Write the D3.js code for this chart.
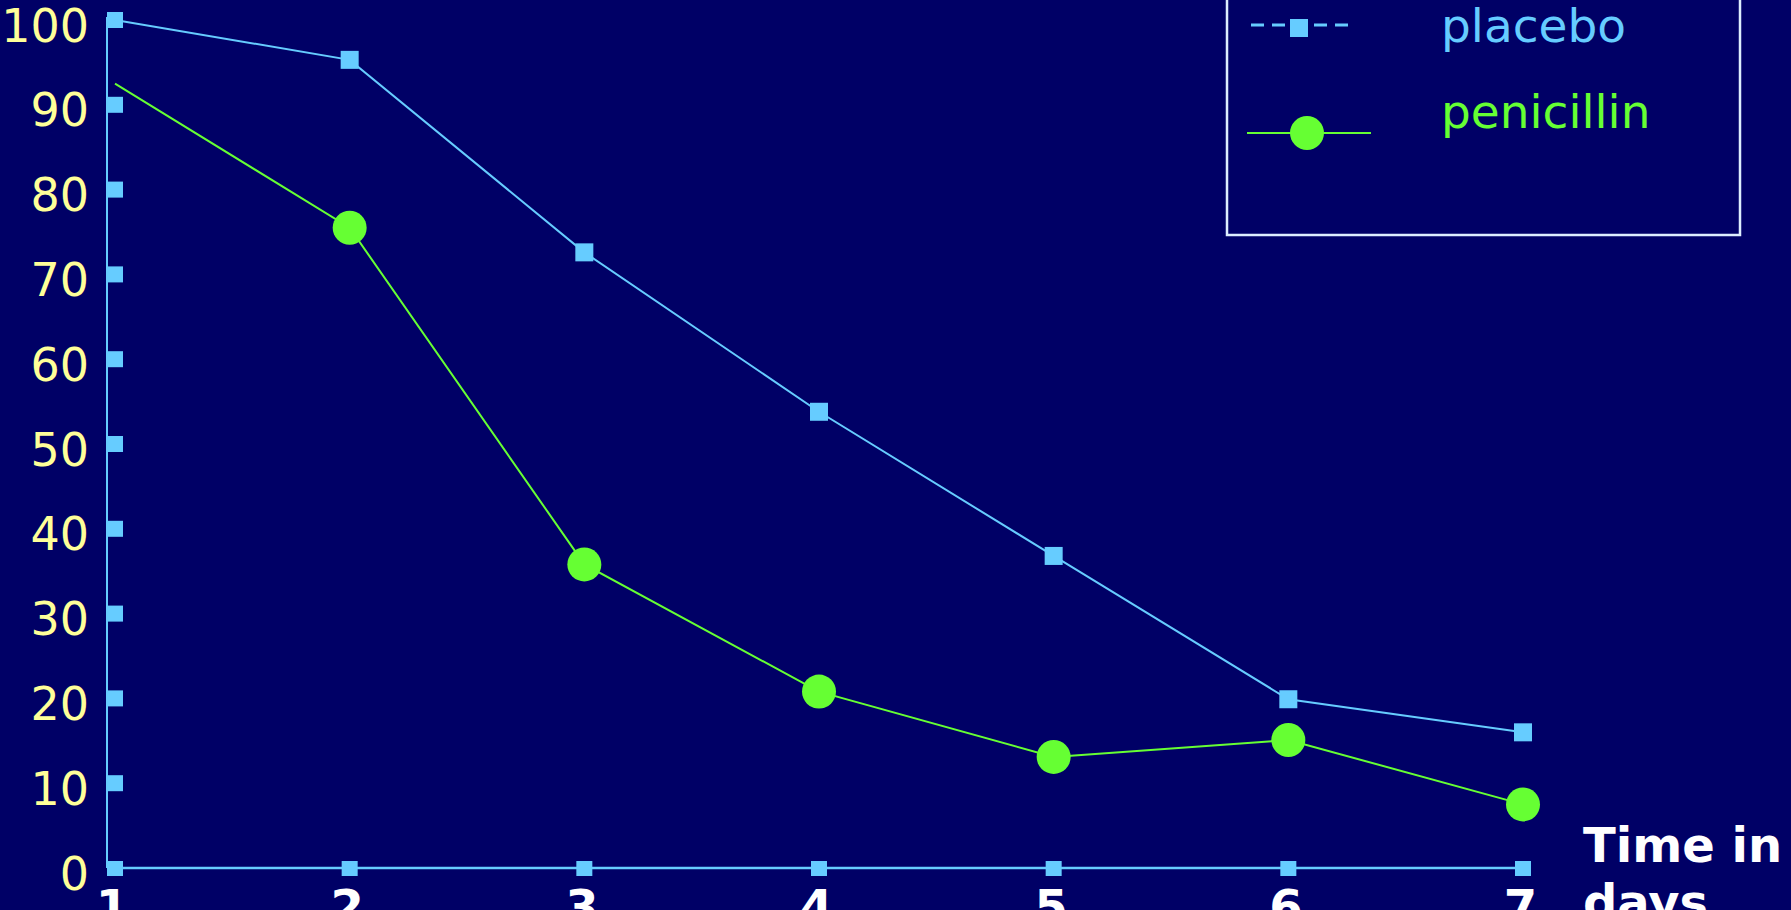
<!DOCTYPE html>
<html>
<head>
<meta charset="utf-8">
<script src="https://cdn.jsdelivr.net/npm/d3@7"></script>
<style>
  html, body { margin: 0; padding: 0; background: #000066; overflow: hidden; }
  svg { display: block; }
  text { font-family: "DejaVu Sans", Verdana, sans-serif; }
</style>
</head>
<body>
<div id="chart"></div>
<script>
// data
const days = [1, 2, 3, 4, 5, 6, 7];
const placebo = [100, 95.3, 72.6, 53.8, 36.8, 19.9, 16.0];
const penicillin = [92.5, 75.5, 35.8, 20.8, 13.1, 15.1, 7.5];
const yTicks = [0, 10, 20, 30, 40, 50, 60, 70, 80, 90, 100];
const seriesNames = ['placebo', 'penicillin'];
const axisTitle = ['Time in', 'days'];

const width = 1791, height = 910;
const colors = { placebo: '#66CCFF', penicillin: '#66FF33', label: '#FFFF99', bg: '#000066' };

const svg = d3.select('#chart').append('svg')
  .attr('width', width)
  .attr('height', height);

svg.append('rect').attr('width', width).attr('height', height).attr('fill', colors.bg);

const x = d3.scaleLinear().domain([1, 7]).range([115, 1523]);
const y = d3.scaleLinear().domain([0, 100]).range([868, 20]);
const axisX = x(1) - 8;

// y axis: labels from axisLeft, square ticks drawn on top
const gy = svg.append('g').attr('transform', `translate(${axisX},0)`)
  .call(d3.axisLeft(y).tickValues(yTicks).tickSize(0).tickPadding(18).tickFormat(d3.format('d')));
gy.select('.domain').remove();
gy.selectAll('text')
  .attr('fill', colors.label)
  .style('font-size', '46px')
  .attr('dy', '0.46em');

svg.append('line')
  .attr('x1', axisX).attr('x2', axisX)
  .attr('y1', y(100) - 3).attr('y2', y(0))
  .attr('stroke', colors.placebo).attr('stroke-width', 2);

svg.append('line')
  .attr('x1', axisX).attr('x2', x(7))
  .attr('y1', y(0)).attr('y2', y(0))
  .attr('stroke', colors.placebo).attr('stroke-width', 2.5);

svg.append('g').selectAll('rect')
  .data(yTicks.filter(d => d > 0))
  .join('rect')
  .attr('x', axisX)
  .attr('y', d => y(d) - 8)
  .attr('width', 16).attr('height', 16)
  .attr('fill', colors.placebo);

// x axis
const gx = svg.append('g').attr('transform', `translate(0,${y(0)})`)
  .call(d3.axisBottom(x).tickValues(days).tickSize(0).tickPadding(22).tickFormat(d3.format('d')));
gx.select('.domain').remove();
gx.selectAll('text')
  .attr('fill', '#FFFFFF')
  .attr('dx', -3)
  .style('font-size', '48px')
  .style('font-weight', 'bold');

svg.append('g').selectAll('rect')
  .data(days)
  .join('rect')
  .attr('x', d => x(d) - 8)
  .attr('y', y(0) - 7)
  .attr('width', 16).attr('height', 15)
  .attr('fill', colors.placebo);

svg.append('text')
  .attr('x', 1583).attr('y', 862)
  .attr('fill', '#FFFFFF')
  .style('font-size', '48px')
  .style('font-weight', 'bold')
  .selectAll('tspan')
  .data(axisTitle)
  .join('tspan')
  .attr('x', 1583)
  .attr('dy', (d, i) => i === 0 ? 0 : 57)
  .text(d => d);

// series
const line = d3.line()
  .x((d, i) => x(days[i]))
  .y(d => y(d));

svg.append('path')
  .datum(placebo)
  .attr('d', line)
  .attr('fill', 'none')
  .attr('stroke', colors.placebo)
  .attr('stroke-width', 2);

svg.append('path')
  .datum(penicillin)
  .attr('d', line)
  .attr('fill', 'none')
  .attr('stroke', colors.penicillin)
  .attr('stroke-width', 2);

// markers (the slide has none on day 1)
svg.append('g').selectAll('rect')
  .data(placebo.map((v, i) => ({ day: days[i], v })).slice(1))
  .join('rect')
  .attr('x', d => x(d.day) - 9)
  .attr('y', d => y(d.v) - 9)
  .attr('width', 18).attr('height', 18)
  .attr('fill', colors.placebo);

svg.append('g').selectAll('circle')
  .data(penicillin.map((v, i) => ({ day: days[i], v })).slice(1))
  .join('circle')
  .attr('cx', d => x(d.day))
  .attr('cy', d => y(d.v))
  .attr('r', 17)
  .attr('fill', colors.penicillin);

// legend
const legend = svg.append('g');
legend.append('rect')
  .attr('x', 1227).attr('y', -10)
  .attr('width', 513).attr('height', 245)
  .attr('fill', 'none')
  .attr('stroke', '#DDEEFF')
  .attr('stroke-width', 2.5);

const legendRows = [
  { name: seriesNames[0], y: 25, text: 42 },
  { name: seriesNames[1], y: 133, text: 128 }
];

legend.append('line')
  .attr('x1', 1251).attr('x2', 1353)
  .attr('y1', legendRows[0].y).attr('y2', legendRows[0].y)
  .attr('stroke', colors.placebo).attr('stroke-width', 3)
  .attr('stroke-dasharray', '13,8');
legend.append('rect')
  .attr('x', 1290).attr('y', legendRows[0].y - 6)
  .attr('width', 18).attr('height', 18)
  .attr('fill', colors.placebo);

legend.append('line')
  .attr('x1', 1247).attr('x2', 1371)
  .attr('y1', legendRows[1].y).attr('y2', legendRows[1].y)
  .attr('stroke', colors.penicillin).attr('stroke-width', 2);
legend.append('circle')
  .attr('cx', 1307).attr('cy', legendRows[1].y)
  .attr('r', 17)
  .attr('fill', colors.penicillin);

legend.selectAll('text')
  .data(legendRows)
  .join('text')
  .attr('x', 1441)
  .attr('y', d => d.text)
  .attr('fill', d => colors[d.name])
  .style('font-size', '47px')
  .text(d => d.name);
</script>
</body>
</html>
